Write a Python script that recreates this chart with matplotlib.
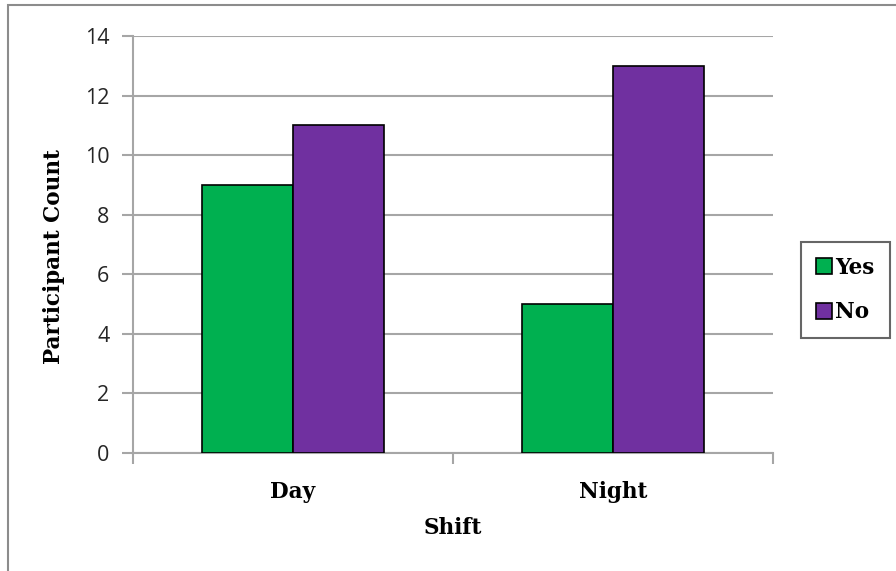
import numpy as np
import matplotlib
matplotlib.use("Agg")
from matplotlib import pyplot as plt
from matplotlib.patches import Rectangle

shifts = ["Day", "Night"]
yes_counts = [9, 5]
no_counts = [11, 13]
series_names = ["Yes", "No"]
y_ticks = [0, 2, 4, 6, 8, 10, 12, 14]

green = "#00B050"
purple = "#7030A0"
grid_gray = "#A6A6A6"
label_font = "DejaVu Serif"

fig = plt.figure(figsize=(8.96, 5.71), dpi=100)

# outer chart frame (runs off the right and bottom edges)
fig.patches.append(Rectangle((8 / 896, -0.05), 1.2, 1 - 5 / 571 + 0.05,
                             transform=fig.transFigure, fill=False,
                             edgecolor="#8C8C8C", linewidth=1.5))

ax = fig.add_axes([133 / 896, 1 - 453 / 571, 640 / 896, 417 / 571])

x = np.arange(len(shifts))
w = 0.285
ax.bar(x - w / 2, yes_counts, w, color=green, edgecolor="black",
       linewidth=1.2, label=series_names[0], zorder=3)
ax.bar(x + w / 2, no_counts, w, color=purple, edgecolor="black",
       linewidth=1.2, label=series_names[1], zorder=3)

ax.set_xlim(-0.5, 1.5)
ax.set_ylim(0, 14)
ax.set_yticks(y_ticks)
ax.yaxis.grid(True, color=grid_gray, linewidth=1.5, zorder=0)
ax.set_axisbelow(True)

for side in ["top", "right"]:
    ax.spines[side].set_visible(False)
for side in ["left", "bottom"]:
    ax.spines[side].set_color(grid_gray)
    ax.spines[side].set_linewidth(1.5)

# category ticks sit between the groups
ax.set_xticks([-0.5, 0.5, 1.5])
ax.set_xticklabels([])
ax.set_xticks(x, minor=True)
ax.set_xticklabels(shifts, minor=True, fontsize=15.5, fontweight="bold",
                   family=label_font)
ax.tick_params(axis="x", which="major", length=8, width=1.5, color=grid_gray,
               direction="out")
ax.tick_params(axis="x", which="minor", length=0, pad=20)
ax.tick_params(axis="y", length=8, width=1.5, color=grid_gray, pad=9,
               labelsize=15.5, labelcolor="#262626")
for t in ax.get_yticklabels():
    t.set_family("Open Sans")

ax.set_xlabel("Shift", fontsize=15.5, fontweight="bold", family=label_font,
              labelpad=10)
ax.set_ylabel("Participant Count", fontsize=15.5, fontweight="bold",
              family=label_font)
ax.yaxis.set_label_coords(-0.106, 0.472)

leg = fig.legend(loc="center left", bbox_to_anchor=(801 / 896, 1 - 290 / 571),
                 borderaxespad=0, frameon=True, fancybox=False,
                 edgecolor="#404040",
                 handlelength=0.75, handleheight=0.75, handletextpad=0.15,
                 labelspacing=1.05, borderpad=0.7,
                 prop={"family": label_font, "weight": "bold", "size": 15.5})
leg.get_frame().set_linewidth(1.5)
for h in leg.legend_handles:
    h.set_linewidth(1.2)

fig.savefig("out.png", dpi=100)
